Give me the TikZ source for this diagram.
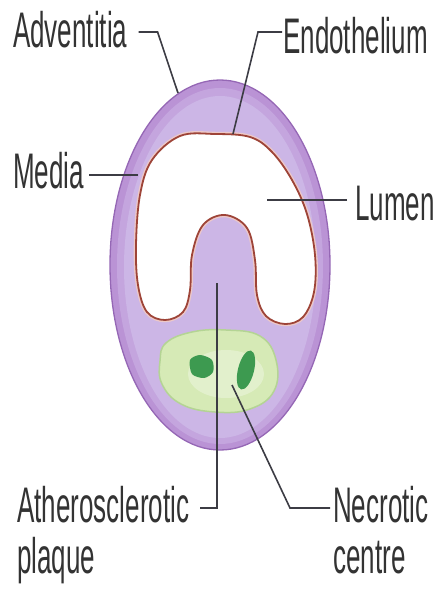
\documentclass[tikz,border=0pt]{standalone}
\usepackage{fontspec}
\setmainfont[FakeStretch=0.52]{Liberation Sans}
\usetikzlibrary{calc}

\definecolor{wallouter}{HTML}{BA93D5}
\definecolor{wallmid}{HTML}{C4A5DE}
\definecolor{wallinner}{HTML}{CCB6E6}
\definecolor{walledge}{HTML}{9567B5}
\definecolor{endoline}{HTML}{9E4438}
\definecolor{endohalo}{HTML}{EDC8C8}
\definecolor{plaquefill}{HTML}{D6EAB6}
\definecolor{plaqueedge}{HTML}{B4D494}
\definecolor{coregreen}{HTML}{3D9A50}
\definecolor{labelgray}{HTML}{333333}
\definecolor{leadgray}{HTML}{3C3C44}

\begin{document}
\begin{tikzpicture}[x=1pt,y=-1pt,
  lbl/.style={inner sep=0pt, text=labelgray, font=\fontsize{50}{51}\selectfont},
  lead/.style={draw=leadgray, line width=1.6pt}]
\useasboundingbox (0,0) rectangle (439,603);

% vessel wall: adventitia ring fading into the media
\fill[wallouter] (220,265) ellipse [x radius=110, y radius=185];
\fill[wallmid] (220,266) ellipse [x radius=103, y radius=178];
\fill[wallinner] (220,267) ellipse [x radius=96, y radius=171];
\draw[walledge, line width=1.3pt] (220,265) ellipse [x radius=110, y radius=185];

% lumen lined by endothelium
\draw[endohalo, line width=4.5pt] plot[smooth cycle, tension=0.6] coordinates {
  (180,136) (215,134) (250,137) (272,152) (292,180) (307,214) (315,255)
  (314,292) (303,317) (285,324) (266,316) (257,295) (255,260) (247,228)
  (225,215) (203,225) (192,255) (190,290) (183,312) (165,320) (147,312)
  (138,285) (136,245) (140,195) (152,160)};
\filldraw[fill=white, draw=endoline, line width=1.8pt] plot[smooth cycle, tension=0.6] coordinates {
  (180,136) (215,134) (250,137) (272,152) (292,180) (307,214) (315,255)
  (314,292) (303,317) (285,324) (266,316) (257,295) (255,260) (247,228)
  (225,215) (203,225) (192,255) (190,290) (183,312) (165,320) (147,312)
  (138,285) (136,245) (140,195) (152,160)};

% atherosclerotic plaque with necrotic centre
\filldraw[fill=plaquefill, draw=plaqueedge, line width=1.5pt] plot[smooth cycle, tension=0.7] coordinates {
  (166,343) (192,332) (226,330) (260,336) (276,360) (274,391)
  (250,409) (215,412) (181,404) (162,384) (160,361)};
\fill[white, opacity=0.3] (226,374) ellipse [x radius=38, y radius=24];
\fill[coregreen] plot[smooth cycle] coordinates {
  (190,360) (200,355) (212,360) (213,372) (204,378) (192,374)};
\fill[coregreen, rotate around={-14:(246,370)}] (246,370) ellipse [x radius=8, y radius=20];

% labels
\node[lbl, anchor=base west] (adv) at (13,47) {Adventitia};
\node[lbl, anchor=base west] (endo) at (283,53) {Endothelium};
\node[lbl, anchor=base west] (media) at (13,188) {Media};
\node[lbl, anchor=base west] (lumen) at (355,220) {Lumen};
\node[lbl, anchor=base west, align=left] (ath) at (17,573) {Atherosclerotic\\plaque};
\node[lbl, anchor=base west, align=left] (necr) at (333,573) {Necrotic\\centre};

% leader end points
\coordinate (advTip) at (178,93);
\coordinate (endoTip) at (233,134);
\coordinate (mediaTip) at (138,175);
\coordinate (lumenTip) at (267,200);
\coordinate (athTip) at (217,283);
\coordinate (necrTip) at (232,385);

% leaders
\draw[lead] (adv.east |- 0,32) ++(11,0) -- ++(19,0) -- (advTip);
\draw[lead] (endo.west |- 0,32) ++(-1,0) -- (258,32) -- (endoTip);
\draw[lead] (media.east |- 0,175) ++(5,0) -- (mediaTip);
\draw[lead] (lumen.west |- 0,200) ++(-8,0) -- (lumenTip);
\draw[lead] (200,508) -- (athTip |- 0,508) -- (athTip);
\draw[lead] (necr.west |- 0,508) ++(-3,0) -- (290,508) -- (necrTip);
\end{tikzpicture}
\end{document}
